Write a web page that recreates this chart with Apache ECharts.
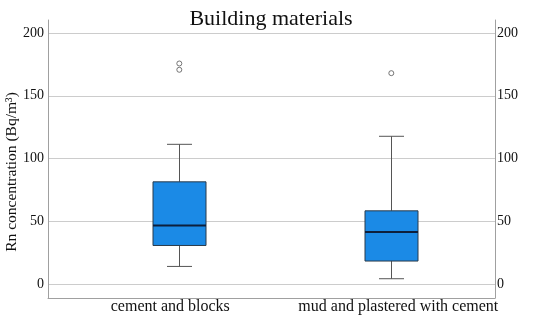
<!DOCTYPE html>
<html>
<head>
<meta charset="utf-8">
<script src="https://cdn.jsdelivr.net/npm/echarts@6/dist/echarts.min.js"></script>
<style>html,body{margin:0;padding:0;background:#fff}#c{width:550px;height:323px}</style>
</head>
<body>
<div id="c"></div>
<script>
var categories = ['cement and blocks', 'mud and plastered with cement'];
// [min, Q1, median, Q3, max]
var boxValues = [
  [14, 30.7, 46.6, 81.4, 111.3],
  [4.2, 18.3, 41.4, 58.3, 117.7]
];
// [categoryIndex, value]
var outliers = [[0, 175.7], [0, 170.7], [1, 168]];
var yTicks = [0, 50, 100, 150, 200];

var FONT = '"Liberation Serif", "Times New Roman", serif';
var chart = echarts.init(document.getElementById('c'), null, {renderer: 'canvas'});

var boxData = boxValues.map(function (v, i) { return [i].concat(v); });

var option = {
  backgroundColor: '#fff',
  animation: false,
  title: {
    text: 'Building materials', left: 266, top: 3, textAlign: 'center',
    textStyle: {fontFamily: FONT, fontSize: 22, fontWeight: 'normal', color: '#111'}
  },
  graphic: [{
    type: 'text', x: 12, y: 172, rotation: Math.PI / 2,
    style: {text: 'Rn concentration (Bq/m³)', font: '15.5px ' + FONT, fill: '#111',
      textAlign: 'center', textVerticalAlign: 'middle'}
  }],
  grid: [
    {left: 48, right: 55, top: 20, bottom: 25},
    {left: 48, right: 55, top: 33, bottom: 39},
    {left: 73.3, right: 52.7, top: 33, bottom: 39}
  ],
  xAxis: [
    {gridIndex: 0, type: 'value', min: 0, max: 1, axisLine: {show: true, lineStyle: {color: '#a0a0a0'}},
      axisTick: {show: false}, axisLabel: {show: false}, splitLine: {show: false}},
    {gridIndex: 1, type: 'value', min: 0, max: 1, show: false},
    {gridIndex: 2, type: 'category', data: categories, boundaryGap: true,
      axisLine: {show: false}, axisTick: {show: false}, splitLine: {show: false},
      axisLabel: {interval: 0, hideOverlap: false, margin: 15, fontFamily: FONT, fontSize: 16, color: '#111',
        formatter: function (v, i) { return i === 0 ? '{a|' + v + '}' : '{b|' + v + '}'; },
        rich: {a: {fontFamily: FONT, fontSize: 16, color: '#111', padding: [0, 18, 0, 0]},
               b: {fontFamily: FONT, fontSize: 16, color: '#111', padding: [0, 0, 0, 14]}}}}
  ],
  yAxis: [
    {gridIndex: 0, type: 'value', min: 0, max: 1, axisLine: {show: true, lineStyle: {color: '#a0a0a0'}},
      axisTick: {show: false}, axisLabel: {show: false}, splitLine: {show: false}},
    {gridIndex: 0, type: 'value', min: 0, max: 1, position: 'right', axisLine: {show: true, lineStyle: {color: '#a0a0a0'}},
      axisTick: {show: false}, axisLabel: {show: false}, splitLine: {show: false}},
    {gridIndex: 1, type: 'value', min: yTicks[0], max: yTicks[yTicks.length - 1], interval: 50,
      axisLine: {show: false}, axisTick: {show: false},
      axisLabel: {margin: 4, fontFamily: FONT, fontSize: 14, color: '#111'},
      splitLine: {show: true, lineStyle: {color: '#cccccc', width: 1}}},
    {gridIndex: 1, type: 'value', position: 'right', min: yTicks[0], max: yTicks[yTicks.length - 1], interval: 50,
      axisLine: {show: false}, axisTick: {show: false},
      axisLabel: {margin: 2, fontFamily: FONT, fontSize: 14, color: '#111'},
      splitLine: {show: false}},
    {gridIndex: 2, type: 'value', min: yTicks[0], max: yTicks[yTicks.length - 1], show: false}
  ],
  series: [
    {
      type: 'custom', xAxisIndex: 2, yAxisIndex: 4, data: boxData,
      renderItem: function (params, api) {
        var x = api.value(0);
        var pMin = api.coord([x, api.value(1)]);
        var pQ1 = api.coord([x, api.value(2)]);
        var pMed = api.coord([x, api.value(3)]);
        var pQ3 = api.coord([x, api.value(4)]);
        var pMax = api.coord([x, api.value(5)]);
        var cx = Math.round(pMed[0]) + 0.5;
        var hw = 26.5, cw = 12.5;
        var lineStyle = {stroke: '#555', lineWidth: 1, fill: null};
        return {
          type: 'group',
          children: [
            {type: 'line', shape: {x1: cx, y1: pMax[1], x2: cx, y2: pQ3[1]}, style: lineStyle},
            {type: 'line', shape: {x1: cx, y1: pQ1[1], x2: cx, y2: pMin[1]}, style: lineStyle},
            {type: 'line', shape: {x1: cx - cw, y1: pMax[1], x2: cx + cw, y2: pMax[1]}, style: lineStyle},
            {type: 'line', shape: {x1: cx - cw, y1: pMin[1], x2: cx + cw, y2: pMin[1]}, style: lineStyle},
            {type: 'rect', shape: {x: cx - hw, y: pQ3[1], width: 2 * hw, height: pQ1[1] - pQ3[1]},
              style: {fill: '#1b8ae6', stroke: '#2a3a4a', lineWidth: 1}},
            {type: 'line', shape: {x1: cx - hw, y1: pMed[1], x2: cx + hw, y2: pMed[1]},
              style: {stroke: '#0d1f3c', lineWidth: 2}}
          ]
        };
      }
    },
    {
      type: 'scatter', xAxisIndex: 2, yAxisIndex: 4, data: outliers,
      symbol: 'circle', symbolSize: 5,
      itemStyle: {color: '#fff', borderColor: '#555', borderWidth: 1}
    }
  ]
};
chart.setOption(option);
</script>
</body>
</html>
